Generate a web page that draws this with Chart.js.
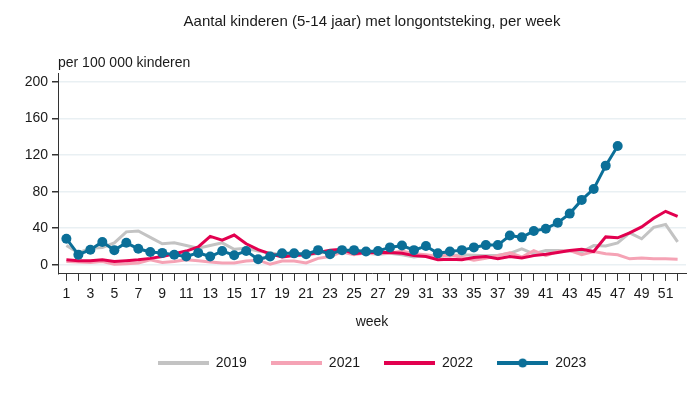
<!DOCTYPE html>
<html>
<head>
<meta charset="utf-8">
<script src="https://cdn.jsdelivr.net/npm/chart.js@4/dist/chart.umd.min.js"></script>
<style>
  html, body { margin: 0; padding: 0; background: #fff; }
  #wrap { width: 700px; height: 395px; }
</style>
</head>
<body>
<div id="wrap"><canvas id="chart" width="700" height="395"></canvas></div>
<script>
/* ========= Data ========= */
const weeks = Array.from({ length: 52 }, (_, i) => i + 1);
const yTicks = [0, 40, 80, 120, 160, 200];

const series2019 = [21, 13, 18, 19, 24, 36, 37, 30, 23, 24, 21, 18, 21, 24, 17, 18, 15, 13, 11, 12,
  10.5, 12.5, 14.5, 15.5, 13, 12.5, 11.5, 12.5, 11, 8.5, 10, 9, 10, 11, 10.5, 10, 10.5, 12.5, 17.5, 12,
  15.5, 15.5, 15, 14, 21, 20.5, 24, 35, 28.5, 41, 44, 25];
const series2021 = [3.5, 3, 2.5, 3.5, 0.5, 1, 2, 5.5, 2.5, 3.5, 5.5, 4.5, 3, 2, 2, 4, 5, 0.5, 4, 4,
  2, 7, 9, 14, 11, 13, 12, 12.5, 15, 12, 11, 9, 11, 8, 5, 7, 10, 13, 8.5, 15.5,
  10, 14.5, 15.5, 11, 14.5, 12, 11, 6.5, 7.5, 6.5, 6.5, 6];
const series2022 = [5.5, 4.5, 4.5, 5.5, 3.5, 4.5, 5.5, 7, 9, 12, 15, 19.5, 31, 27, 32.5, 23, 16.5, 12, 8.5, 10,
  11, 13.5, 16, 17, 12, 13.5, 13.5, 13.5, 12.5, 10, 9, 5.5, 6, 5.5, 8, 9, 6.5, 9, 7.5, 10,
  11.5, 13.5, 15.5, 17, 14.5, 30.5, 29.5, 35, 41.5, 51, 58.5, 53];
const series2023 = [28.5, 11, 16.5, 25, 16, 24, 17.5, 14, 13, 11, 9, 13, 9, 15, 10.5, 15, 6, 9, 12.5, 12.5,
  11.5, 16, 11.5, 16, 16, 14.5, 15, 19, 21, 16, 20.5, 12.5, 14.5, 16, 19, 21.5, 21.5, 32, 30, 37,
  39.5, 46, 56, 71, 83, 108.5, 130];

const COL_2019 = "#c3c3c3";
const COL_2021 = "#f5a3b5";
const COL_2022 = "#e2004f";
const COL_2023 = "#0b6f98";
const FONT = "'Liberation Sans', Arial, sans-serif";
const TXT = "#1a1a1a";

/* ========= Helpers ========= */
function toPoints(vals) {
  return vals.map((v, i) => ({ x: weeks[i], y: v }));
}

// small legend glyph: a line, optionally with a dot in the middle
function legendGlyph(color, dot) {
  const c = document.createElement("canvas");
  c.width = 51; c.height = 12;
  const g = c.getContext("2d");
  g.strokeStyle = color;
  g.lineWidth = 4;
  g.beginPath(); g.moveTo(0, 6); g.lineTo(51, 6); g.stroke();
  if (dot) {
    g.fillStyle = color;
    g.beginPath(); g.arc(25.5, 6, 4.5, 0, Math.PI * 2); g.fill();
  }
  return c;
}

const glyphs = [
  legendGlyph(COL_2019, false),
  legendGlyph(COL_2021, false),
  legendGlyph(COL_2022, false),
  legendGlyph(COL_2023, true)
];

/* ========= Chart ========= */
const ctx = document.getElementById("chart").getContext("2d");
const chart = new Chart(ctx, {
  type: "line",
  data: {
    datasets: [
      { label: "2019", data: toPoints(series2019), borderColor: COL_2019, borderWidth: 3, pointRadius: 0, order: 4 },
      { label: "2021", data: toPoints(series2021), borderColor: COL_2021, borderWidth: 3, pointRadius: 0, order: 3 },
      { label: "2022", data: toPoints(series2022), borderColor: COL_2022, borderWidth: 3, pointRadius: 0, order: 2 },
      { label: "2023", data: toPoints(series2023), borderColor: COL_2023, backgroundColor: COL_2023,
        borderWidth: 3, pointRadius: 5, pointBorderWidth: 0, order: 1 }
    ]
  },
  options: {
    responsive: false,
    animation: false,
    layout: { padding: { left: 0, right: 14, top: 0, bottom: 15 } },
    plugins: {
      tooltip: { enabled: false },
      title: {
        display: true,
        fullSize: false,
        text: "Aantal kinderen (5-14 jaar) met longontsteking, per week",
        color: TXT,
        font: { family: FONT, size: 15, weight: "normal" },
        padding: { top: 13, bottom: 0 }
      },
      subtitle: {
        display: true,
        fullSize: false,
        align: "start",
        text: "per 100 000 kinderen",
        color: TXT,
        font: { family: FONT, size: 14, weight: "normal" },
        padding: { top: 24, bottom: 2 }
      },
      legend: {
        position: "bottom",
        fullSize: false,
        labels: {
          color: TXT,
          font: { family: FONT, size: 14 },
          usePointStyle: true,
          pointStyleWidth: 51,
          padding: 24,
          generateLabels: (ch) => ch.data.datasets.map((ds, i) => ({
            text: ds.label,
            pointStyle: glyphs[i],
            fillStyle: ds.borderColor,
            strokeStyle: ds.borderColor,
            lineWidth: 0,
            hidden: false,
            datasetIndex: i,
            fontColor: TXT
          }))
        }
      }
    },
    scales: {
      x: {
        type: "linear",
        min: 0.3,
        max: 52.7,
        afterBuildTicks: (s) => { s.ticks = weeks.map(w => ({ value: w })); },
        ticks: {
          color: TXT,
          font: { family: FONT, size: 14 },
          padding: 5,
          autoSkip: false,
          maxRotation: 0,
          callback: (v) => (v % 2 === 1 ? String(v) : "")
        },
        grid: { display: true, drawOnChartArea: false, drawTicks: true, tickLength: 7, tickColor: "#333" },
        border: { display: true, color: "#333", width: 1 },
        title: {
          display: true,
          text: "week",
          color: TXT,
          font: { family: FONT, size: 14 },
          padding: { top: 6, bottom: 1.5 }
        }
      },
      y: {
        min: -10,
        max: 209,
        afterBuildTicks: (s) => { s.ticks = yTicks.map(v => ({ value: v })); },
        afterFit: (s) => { s.width = 58; },
        ticks: {
          color: TXT,
          font: { family: FONT, size: 14 },
          padding: 4
        },
        grid: { color: "#e9f0f3", lineWidth: 1.5, drawTicks: true, tickLength: 6, tickColor: "#333" },
        border: { display: true, color: "#333", width: 1 }
      }
    }
  }
});
</script>
</body>
</html>
